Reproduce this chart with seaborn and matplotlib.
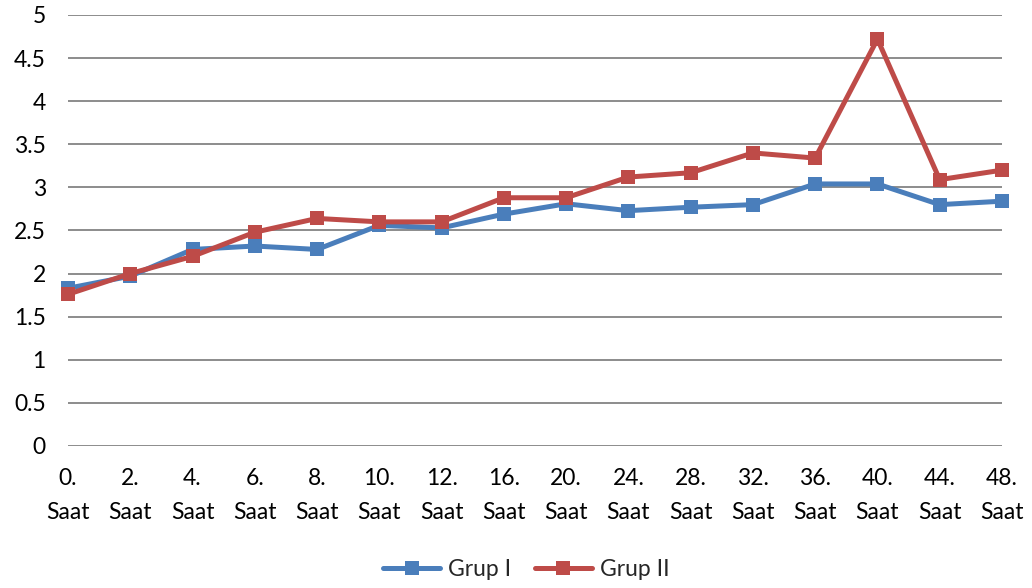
import matplotlib
matplotlib.use("Agg")
import matplotlib.pyplot as plt
import seaborn as sns
import pandas as pd

# Measurement times (hours) and group means
hours = ["0.", "2.", "4.", "6.", "8.", "10.", "12.", "16.", "20.", "24.",
         "28.", "32.", "36.", "40.", "44.", "48."]
grup_1 = [1.83, 1.97, 2.28, 2.32, 2.28, 2.56, 2.53, 2.69, 2.81, 2.73,
          2.77, 2.80, 3.04, 3.04, 2.80, 2.84]
grup_2 = [1.76, 2.00, 2.20, 2.48, 2.64, 2.60, 2.60, 2.88, 2.88, 3.12,
          3.17, 3.40, 3.34, 4.72, 3.09, 3.20]
series_names = ["Grup I", "Grup II"]
y_ticks = [0, 0.5, 1, 1.5, 2, 2.5, 3, 3.5, 4, 4.5, 5]

labels = [h + "\nSaat" for h in hours]
df = pd.DataFrame({
    "Saat": labels * 2,
    "Değer": grup_1 + grup_2,
    "Grup": [series_names[0]] * len(labels) + [series_names[1]] * len(labels),
})

sns.set_theme(style="white")
plt.rcParams["font.family"] = ["Lato", "DejaVu Sans"]

fig = plt.figure(figsize=(10.32, 5.88), dpi=100)
ax = fig.add_axes([0.0659, 0.2415, 0.9050, 0.7330])

palette = {"Grup I": "#4A7EBB", "Grup II": "#BE4B48"}
sns.lineplot(data=df, x="Saat", y="Değer", hue="Grup", palette=palette,
             style="Grup", markers={"Grup I": "s", "Grup II": "s"},
             dashes=False, linewidth=3.6, markersize=10, markeredgewidth=0,
             sort=False, ax=ax, legend=True)
for ln in ax.lines:
    ln.set_clip_on(False)

ax.set_xlim(0, len(labels) - 1)
ax.set_ylim(0, 5)
ax.set_yticks(y_ticks)
ax.set_yticklabels([f"{t:g}" for t in y_ticks])
ax.yaxis.grid(True, color="#8C8C8C", linewidth=1.4)
ax.xaxis.grid(False)
ax.set_axisbelow(True)
for side in ["top", "right", "left", "bottom"]:
    ax.spines[side].set_visible(False)
ax.tick_params(axis="both", length=0, labelsize=16.5, colors="#000000")
ax.tick_params(axis="y", pad=16)
ax.tick_params(axis="x", pad=16)
for t in ax.get_xticklabels():
    t.set_linespacing(1.75)
ax.set_xlabel("")
ax.set_ylabel("")

handles, leg_labels = ax.get_legend_handles_labels()
ax.get_legend().remove()
fig.legend(handles, leg_labels, loc="lower center", bbox_to_anchor=(0.51, -0.022),
           ncol=2, frameon=False, fontsize=16.5, handlelength=2.5,
           columnspacing=1.0, handletextpad=0.35)

fig.savefig("out.png", dpi=100)
